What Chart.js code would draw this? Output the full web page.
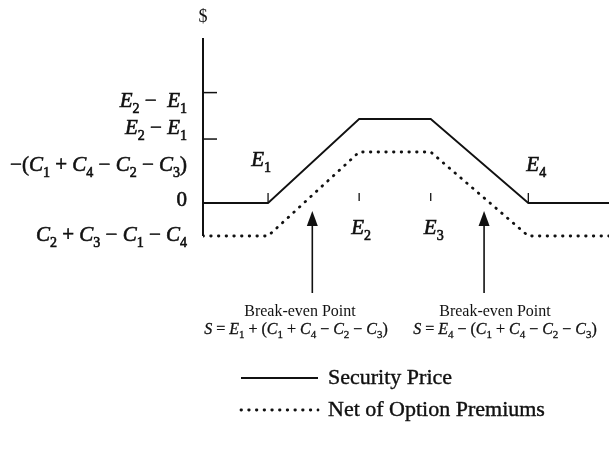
<!DOCTYPE html>
<html>
<head>
<meta charset="utf-8">
<script src="https://cdn.jsdelivr.net/npm/chart.js@4.4.1/dist/chart.umd.min.js"></script>
<style>
  html, body { margin: 0; padding: 0; background: #ffffff; }
  #payoff { display: block; }
</style>
</head>
<body>
<canvas id="payoff" width="609" height="453"></canvas>
<script>
// security price axis (arbitrary units), with the four strikes
const prices = [0, 5, 12, 17.5, 25, 31.2];
const payoff = [0, 0, 7, 7, 0, 0];
const netOfPremiums = [-2.75, -2.75, 4.25, 4.25, -2.75, -2.75];
const strikes = [5, 12, 17.5, 25];
const strikeLabels = ['E_1', 'E_2', 'E_3', 'E_4'];
const yTicks = [9.2, 5.33, 0];
const yLabels = ['E_2 −  E_1', 'E_2 − E_1', '−(C_1 + C_4 − C_2 − C_3)', '0', 'C_2 + C_3 − C_1 − C_4'];
const breakEvens = [8.4, 21.6];
const breakEvenFormulas = ['S = E_1 + (C_1 + C_4 − C_2 − C_3)', 'S = E_4 − (C_1 + C_4 − C_2 − C_3)'];
const seriesNames = ['Security Price', 'Net of Option Premiums'];

const SERIF = '"Liberation Serif", "Times New Roman", serif';

// draws a small formula: capitals in italic, "_x" as subscript
function drawMath(ctx, str, x, y, align, size, weight) {
  const parts = [];
  for (let i = 0; i < str.length; i++) {
    const ch = str[i];
    if (ch === '_') {
      parts.push({ t: str[i + 1], font: Math.round(size * 0.68) + 'px ' + SERIF, dy: size * 0.28 });
      i++;
    } else if (/[A-Z]/.test(ch)) {
      parts.push({ t: ch, font: 'italic ' + size + 'px ' + SERIF, dy: 0 });
    } else {
      parts.push({ t: ch, font: size + 'px ' + SERIF, dy: 0 });
    }
  }
  let w = 0;
  parts.forEach(p => { ctx.font = p.font; p.w = ctx.measureText(p.t).width; w += p.w; });
  let cx = align === 'right' ? x - w : align === 'center' ? x - w / 2 : x;
  ctx.textAlign = 'left';
  ctx.textBaseline = 'alphabetic';
  ctx.lineWidth = weight || 0;
  parts.forEach(p => {
    ctx.font = p.font;
    ctx.fillText(p.t, cx, y + p.dy);
    if (weight) ctx.strokeText(p.t, cx, y + p.dy);
    cx += p.w;
  });
}

const decorations = {
  id: 'decorations',
  afterDraw(chart) {
    const ctx = chart.ctx;
    const xs = chart.scales.x, ys = chart.scales.y;
    const x0 = xs.getPixelForValue(0);
    const yZero = ys.getPixelForValue(0);
    ctx.save();
    ctx.strokeStyle = '#111';
    ctx.fillStyle = '#111';

    // vertical $ axis
    ctx.lineWidth = 2;
    ctx.beginPath();
    ctx.moveTo(x0, ys.getPixelForValue(13.75));
    ctx.lineTo(x0, ys.getPixelForValue(-2.75));
    ctx.stroke();
    ctx.font = '18px ' + SERIF;
    ctx.textAlign = 'center';
    ctx.textBaseline = 'alphabetic';
    ctx.fillText('$', x0, 22);

    // y ticks
    ctx.lineWidth = 1.5;
    yTicks.forEach(v => {
      const py = ys.getPixelForValue(v);
      ctx.beginPath();
      ctx.moveTo(x0, py);
      ctx.lineTo(x0 + 14, py);
      ctx.stroke();
    });

    // y labels (right aligned left of the axis)
    const labelBase = [107, 134, 171, 206, 241];
    yLabels.forEach((s, i) => drawMath(ctx, s, x0 - 16, labelBase[i], 'right', 21, 0.6));

    // strike ticks and labels
    ctx.lineWidth = 1.3;
    strikes.forEach((v, i) => {
      const px = xs.getPixelForValue(v);
      ctx.beginPath();
      ctx.moveTo(px, yZero - 10);
      ctx.lineTo(px, yZero - (i === 1 || i === 2 ? 2 : 0));
      ctx.stroke();
    });
    drawMath(ctx, strikeLabels[0], xs.getPixelForValue(strikes[0]) + 3, 166, 'right', 21, 0.6);
    drawMath(ctx, strikeLabels[1], xs.getPixelForValue(strikes[1]) + 2, 234, 'center', 21, 0.6);
    drawMath(ctx, strikeLabels[2], xs.getPixelForValue(strikes[2]) + 3, 234, 'center', 21, 0.6);
    drawMath(ctx, strikeLabels[3], xs.getPixelForValue(strikes[3]) - 2, 171, 'left', 21, 0.6);

    // break-even arrows and notes
    const noteX = [[300, 296], [495, 505]];
    breakEvens.forEach((v, i) => {
      const px = xs.getPixelForValue(v);
      const tip = yZero + 8;
      ctx.strokeStyle = '#111';
      ctx.lineWidth = 1.6;
      ctx.beginPath();
      ctx.moveTo(px, tip + 10);
      ctx.lineTo(px, 293);
      ctx.stroke();
      ctx.beginPath();
      ctx.moveTo(px, tip);
      ctx.lineTo(px - 5.5, tip + 15);
      ctx.lineTo(px + 5.5, tip + 15);
      ctx.closePath();
      ctx.fill();
      ctx.font = '16px ' + SERIF;
      ctx.textAlign = 'center';
      ctx.textBaseline = 'alphabetic';
      ctx.fillText('Break-even Point', noteX[i][0], 316);
      drawMath(ctx, breakEvenFormulas[i], noteX[i][1], 334, 'center', 16, 0.3);
    });

    // legend
    const ds = chart.data.datasets;
    const legendY = [378, 410];
    ds.forEach((d, i) => {
      ctx.lineWidth = d.borderWidth;
      ctx.lineCap = d.borderCapStyle || 'butt';
      ctx.setLineDash(d.borderDash || []);
      ctx.strokeStyle = d.borderColor;
      ctx.beginPath();
      ctx.moveTo(241, legendY[i]);
      ctx.lineTo(318, legendY[i]);
      ctx.stroke();
      ctx.setLineDash([]);
      ctx.font = '22px ' + SERIF;
      ctx.textAlign = 'left';
      ctx.textBaseline = 'middle';
      ctx.lineWidth = 0.4;
      ctx.fillText(seriesNames[i], 328, legendY[i]);
      ctx.strokeText(seriesNames[i], 328, legendY[i]);
    });
    ctx.restore();
  }
};

new Chart(document.getElementById('payoff'), {
  type: 'line',
  data: {
    datasets: [
      {
        label: seriesNames[0],
        data: prices.map((p, i) => ({ x: p, y: payoff[i] })),
        borderColor: '#111',
        borderWidth: 1.8,
        pointRadius: 0,
        tension: 0,
        fill: false
      },
      {
        label: seriesNames[1],
        data: prices.map((p, i) => ({ x: p, y: netOfPremiums[i] })),
        borderColor: '#111',
        borderWidth: 2.8,
        borderDash: [0.5, 7.2],
        borderCapStyle: 'round',
        pointRadius: 0,
        tension: 0,
        fill: false
      }
    ]
  },
  options: {
    responsive: false,
    animation: false,
    devicePixelRatio: 1,
    layout: { padding: { left: 203, right: 0, top: 35, bottom: 202 } },
    scales: {
      x: { type: 'linear', display: false, min: 0, max: 31.2 },
      y: { type: 'linear', display: false, min: -4, max: 14 }
    },
    plugins: {
      legend: { display: false },
      tooltip: { enabled: false }
    }
  },
  plugins: [decorations]
});
</script>
</body>
</html>
